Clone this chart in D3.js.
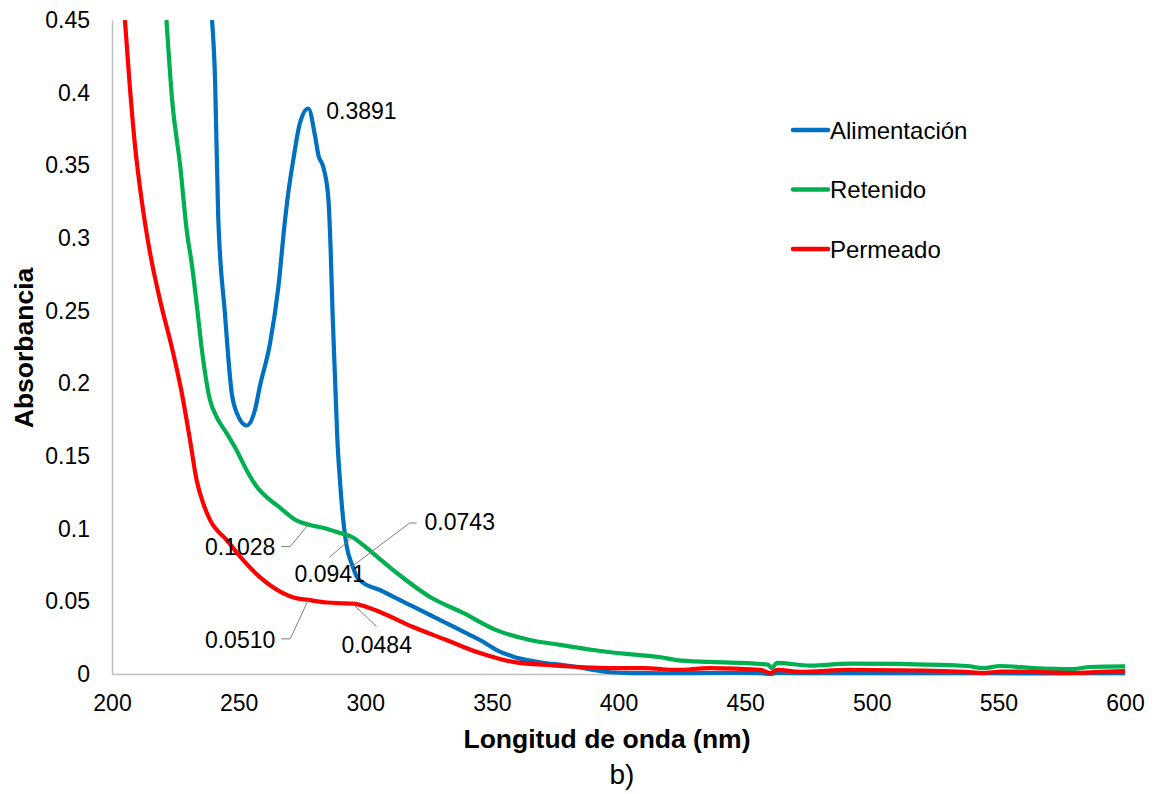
<!DOCTYPE html>
<html>
<head>
<meta charset="utf-8">
<script src="https://cdn.jsdelivr.net/npm/d3@7"></script>
<style>
  html, body { margin: 0; padding: 0; background: #fff; }
  svg { display: block; font-family: "Liberation Sans", Arial, sans-serif; }
</style>
</head>
<body>
<svg id="chart" width="1156" height="794"></svg>
<script>
// Absorbance spectra: [wavelength (nm), absorbance]
const alimentacion = [
  [239.5,0.45],[240.7,0.409],[241.9,0.317],[244.6,0.248],[247.3,0.193],[249.2,0.180],
  [253.2,0.171],[256.5,0.182],[258.4,0.198],[262.4,0.2275],[265.7,0.2665],[268.3,0.312],
  [269.6,0.331],[271.6,0.354],[274.2,0.379],[277.5,0.3891],[280.2,0.370],[281.5,0.357],
  [283.4,0.349],[285.4,0.328],[286.3,0.294],[287.1,0.248],[288.1,0.202],[289.0,0.161],
  [290.0,0.1335],[291.3,0.106],[292.7,0.0876],[295.0,0.0743],[296.6,0.067],[298.6,0.0635],
  [305.8,0.0578],[312.4,0.052],[319.0,0.0463],[325.6,0.0406],[332.2,0.0349],[338.7,0.0291],
  [345.3,0.0234],[351.9,0.0165],[358.5,0.0119],[365.0,0.0092],[371.7,0.0074],[378.0,0.0062],
  [384.8,0.0045],[390.0,0.0028],[396.7,0.0012],[405,0.0006],[420,0.0005],[440,0.0007],
  [456,0.0006],[460,0.0],[462.5,0.0007],[480,0.0005],[500,0.0006],[520,0.0005],[540,0.0006],
  [560,0.0004],[580,0.0005],[600,0.0006]
];
const retenido = [
  [221.5,0.45],[223.7,0.396],[226.9,0.350],[229.6,0.304],[231.6,0.281],[233.6,0.252],
  [235.5,0.223],[238.7,0.1885],[241.3,0.177],[245.3,0.1656],[249.2,0.154],[253.2,0.140],
  [257.1,0.129],[262.4,0.1197],[266.3,0.1145],[269.0,0.1105],[272.5,0.106],[277.5,0.1028],
  [284.0,0.1003],[290.0,0.097],[295.0,0.0941],[299.0,0.089],[303.0,0.0832],[312.5,0.0695],
  [325.6,0.053],[338.7,0.042],[352.0,0.030],[365.0,0.0234],[377.0,0.020],[390.0,0.0165],
  [403.0,0.0138],[416.0,0.0117],[423.0,0.0096],[436.0,0.0083],[456.0,0.0069],[459.0,0.0065],
  [460.5,0.004],[462.5,0.0076],[475.7,0.0058],[491.5,0.0072],[511.0,0.0069],[537.7,0.0055],
  [544.0,0.004],[550.7,0.0055],[563.8,0.0041],[579.6,0.0034],[586.0,0.0048],[600.0,0.0052]
];
const permeado = [
  [205.1,0.45],[207.0,0.405],[209.0,0.365],[211.8,0.325],[215.0,0.290],[219.0,0.257],
  [224.0,0.222],[227.6,0.193],[230.8,0.161],[233.4,0.1335],[236.0,0.1175],[238.7,0.106],
  [245.4,0.092],[251.7,0.0785],[258.4,0.0667],[267.5,0.0557],[272.0,0.0525],[277.5,0.0510],
  [285.0,0.0492],[290.0,0.0487],[295.0,0.0484],[300.0,0.0465],[305.8,0.0427],[318.9,0.0323],
  [332.0,0.0234],[345.3,0.0144],[358.4,0.0083],[371.8,0.0062],[385.0,0.0048],[396.7,0.0041],
  [410.0,0.0041],[423.0,0.0028],[436.0,0.0041],[456.0,0.0028],[460.0,0.0007],[462.7,0.0028],
  [472.0,0.0015],[491.0,0.0028],[520.0,0.0024],[537.0,0.0014],[544.0,0.0007],[551.0,0.0017],
  [563.0,0.0014],[579.6,0.0007],[590.0,0.0014],[600.0,0.002]
];

const seriesNames = ["Alimentación", "Retenido", "Permeado"];
const seriesColors = ["#0070C0", "#00B050", "#FF0000"];
const seriesData = [alimentacion, retenido, permeado];

const xTicks = [200, 250, 300, 350, 400, 450, 500, 550, 600];
const yTicks = [0, 0.05, 0.1, 0.15, 0.2, 0.25, 0.3, 0.35, 0.4, 0.45];
const yTickLabels = ["0", "0.05", "0.1", "0.15", "0.2", "0.25", "0.3", "0.35", "0.4", "0.45"];

// Point labels: series index, wavelength, value, text offset and leader path (relative to the point)
const pointLabels = [
  { s: 0, nm: 277.5, v: 0.3891, dx: 18, dy: 10, anchor: "start", leader: [] },
  { s: 1, nm: 277.5, v: 0.1028, dx: -33, dy: 30, anchor: "end", leader: [[-27, 22], [-18, 22], [0, 0]] },
  { s: 2, nm: 277.5, v: 0.0510, dx: -33, dy: 48, anchor: "end", leader: [[-27, 39], [-18, 39], [0, 0]] },
  { s: 1, nm: 295, v: 0.0941, dx: -58, dy: 45, anchor: "start", leader: [[-23, 20], [0, 0]] },
  { s: 0, nm: 295, v: 0.0743, dx: 72, dy: -36, anchor: "start", leader: [[0, 0], [57, -43], [64, -43]] },
  { s: 2, nm: 295, v: 0.0484, dx: -11, dy: 49, anchor: "start", leader: [[0, 0], [24, 23]] }
];

const svg = d3.select("#chart");
const plot = { left: 112, right: 1125, top: 20, bottom: 674 };

const x = d3.scaleLinear().domain([200, 600]).range([plot.left, plot.right]);
const y = d3.scaleLinear().domain([0, 0.45]).range([plot.bottom, plot.top]);

svg.append("defs").append("clipPath").attr("id", "plot-clip")
  .append("rect")
  .attr("x", plot.left).attr("y", plot.top)
  .attr("width", plot.right - plot.left + 6)
  .attr("height", plot.bottom - plot.top + 6);

// Axes (no tick marks, light grey baseline)
const yAxis = d3.axisLeft(y).tickValues(yTicks)
  .tickFormat((d, i) => yTickLabels[i]).tickSize(0).tickPadding(22);
const xAxis = d3.axisBottom(x).tickValues(xTicks)
  .tickFormat(d3.format("d")).tickSize(0).tickPadding(21);

const gy = svg.append("g").attr("transform", `translate(${plot.left},0)`).call(yAxis);
const gx = svg.append("g").attr("transform", `translate(0,${plot.bottom})`).call(xAxis);
[gx, gy].forEach(g => {
  g.select(".domain").attr("stroke", "#BFBFBF").attr("stroke-width", 1.5);
  g.selectAll("text").attr("fill", "#000").style("font-size", "23px")
    .style("font-family", "'Liberation Sans', Arial, sans-serif");
});

// Axis titles
svg.append("text")
  .attr("x", 607).attr("y", 748)
  .attr("text-anchor", "middle")
  .style("font-size", "26.5px").style("font-weight", "bold")
  .text("Longitud de onda (nm)");
svg.append("text")
  .attr("transform", `translate(33,${(plot.top + plot.bottom) / 2 + 1}) rotate(-90)`)
  .attr("text-anchor", "middle")
  .style("font-size", "26.5px").style("font-weight", "bold")
  .text("Absorbancia");
svg.append("text")
  .attr("x", 622).attr("y", 784)
  .attr("text-anchor", "middle")
  .style("font-size", "28px")
  .text("b)");

// Spectra
const line = d3.line().x(d => x(d[0])).y(d => y(d[1])).curve(d3.curveMonotoneX);
const lines = svg.append("g").attr("clip-path", "url(#plot-clip)");
seriesData.forEach((data, i) => {
  lines.append("path")
    .datum(data)
    .attr("fill", "none")
    .attr("stroke", seriesColors[i])
    .attr("stroke-width", 4.2)
    .attr("stroke-linejoin", "round")
    .attr("d", line);
});

// Point labels with leader lines
const lbl = svg.append("g");
pointLabels.forEach(p => {
  const px = x(p.nm), py = y(p.v);
  if (p.leader.length) {
    lbl.append("path")
      .attr("d", d3.line()(p.leader.map(([a, b]) => [px + a, py + b])))
      .attr("fill", "none").attr("stroke", "#7f7f7f").attr("stroke-width", 1);
  }
  lbl.append("text")
    .attr("x", px + p.dx).attr("y", py + p.dy)
    .attr("text-anchor", p.anchor)
    .style("font-size", "23px")
    .text(p.v.toFixed(4));
});

// Legend
const legend = svg.append("g").attr("transform", "translate(793,130)");
seriesNames.forEach((name, i) => {
  const g = legend.append("g").attr("transform", `translate(0,${i * 59.5})`);
  g.append("line").attr("x1", 0).attr("x2", 35).attr("y1", 0).attr("y2", 0)
    .attr("stroke", seriesColors[i]).attr("stroke-width", 4.5).attr("stroke-linecap", "round");
  g.append("text").attr("x", 37).attr("y", 8.5)
    .style("font-size", "24px").text(name);
});
</script>
</body>
</html>
